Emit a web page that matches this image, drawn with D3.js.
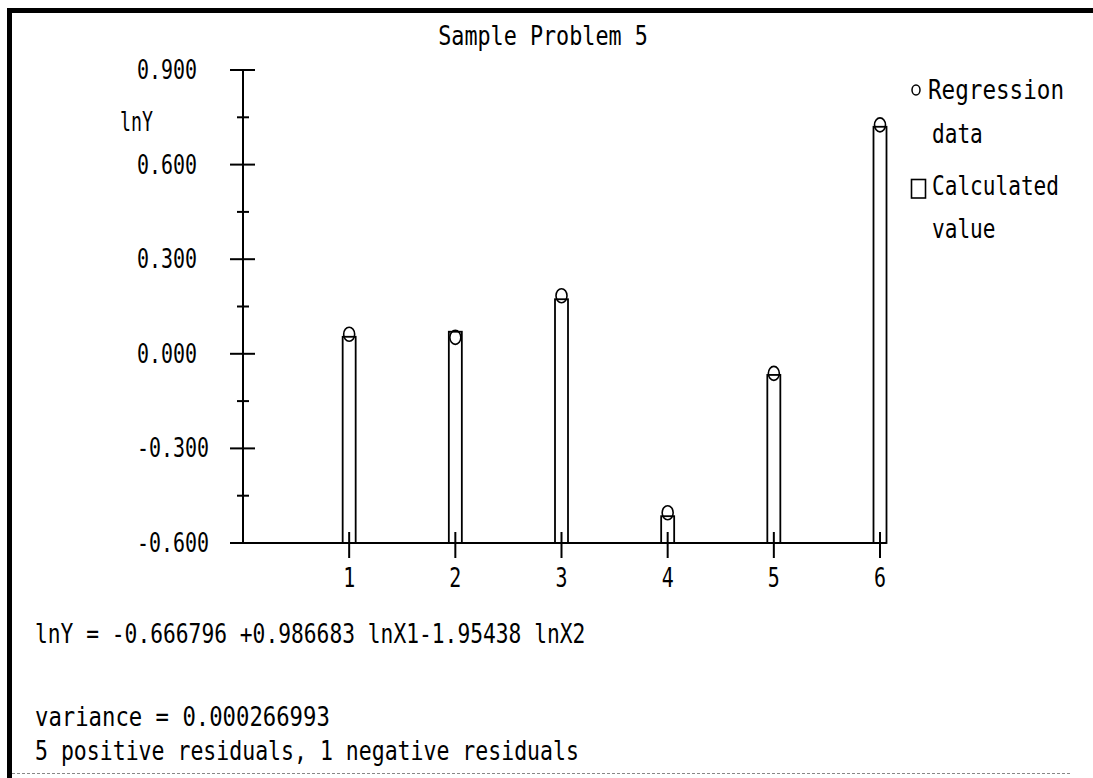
<!DOCTYPE html>
<html>
<head>
<meta charset="utf-8">
<script src="https://cdn.jsdelivr.net/npm/d3@7"></script>
<style>
  html, body { margin: 0; padding: 0; background: #fff; }
  svg { display: block; }
  text { font-family: "DejaVu Sans Mono", monospace; font-size: 26px; fill: #000; }
</style>
</head>
<body>
<svg id="chart" width="1093" height="778"></svg>
<script>
// categories and values
const xCats = [1, 2, 3, 4, 5, 6];
const calcValues = [0.054, 0.070, 0.173, -0.515, -0.067, 0.720];   // bars (calculated value)
const dataValues = [0.062, 0.052, 0.184, -0.504, -0.062, 0.726];   // circles (regression data)
const yMajor = [0.9, 0.6, 0.3, 0, -0.3, -0.6];
const yMinor = [0.75, 0.45, 0.15, -0.15, -0.45];
const yLabels = ["0.900", "0.600", "0.300", "0.000", "-0.300", "-0.600"];

const title = "Sample Problem 5";
const equation = "lnY = -0.666796 +0.986683 lnX1-1.95438 lnX2";
const variance = "variance = 0.000266993";
const residuals = "5 positive residuals, 1 negative residuals";

const svg = d3.select("#chart");

const x = d3.scaleLinear().domain([0, 6]).range([243, 880]);
const y = d3.scaleLinear().domain([-0.6, 0.9]).range([543, 70]);

// squeeze monospace text to the plotter's narrow pitch
function label(px, py, str, adv, anchor) {
    return svg.append("text")
        .attr("x", px)
        .attr("y", py)
        .attr("text-anchor", anchor || "start")
        .attr("textLength", str.length * adv)
        .attr("lengthAdjust", "spacingAndGlyphs")
        .text(str);
}

// frame
svg.append("rect").attr("x", 7).attr("y", 8).attr("width", 1086).attr("height", 5).attr("fill", "#000");
svg.append("rect").attr("x", 7).attr("y", 8).attr("width", 5).attr("height", 770).attr("fill", "#000");
svg.append("line")
    .attr("x1", 12).attr("x2", 1071).attr("y1", 773.5).attr("y2", 773.5)
    .attr("stroke", "#888").attr("stroke-width", 1).attr("stroke-dasharray", "3,2");

// title
label(543, 45, title, 13.1, "middle");

// y axis
const axis = svg.append("g").attr("stroke", "#000").attr("stroke-width", 2);
axis.append("line").attr("x1", x(0)).attr("x2", x(0)).attr("y1", y(0.9)).attr("y2", y(-0.6));
axis.selectAll("line.major").data(yMajor).enter().append("line")
    .attr("class", "major")
    .attr("x1", x(0) - 13).attr("x2", x(0) + 12)
    .attr("y1", d => y(d)).attr("y2", d => y(d));
axis.selectAll("line.minor").data(yMinor).enter().append("line")
    .attr("class", "minor")
    .attr("x1", x(0) - 6).attr("x2", x(0) + 6)
    .attr("y1", d => y(d)).attr("y2", d => y(d));

yMajor.forEach((v, i) => label(137, y(v) + 9, yLabels[i], 12));
label(120, 131, "lnY", 11);

// x axis
axis.append("line").attr("x1", x(0) - 13).attr("x2", x(6.06)).attr("y1", y(-0.6)).attr("y2", y(-0.6));
axis.selectAll("line.xtick").data(xCats).enter().append("line")
    .attr("class", "xtick")
    .attr("x1", d => x(d)).attr("x2", d => x(d))
    .attr("y1", y(-0.6) - 11).attr("y2", y(-0.6) + 15);
xCats.forEach(c => label(x(c), 587, String(c), 12, "middle"));

// bars: calculated value
const barW = 13;
svg.selectAll("rect.bar").data(calcValues).enter().append("rect")
    .attr("class", "bar")
    .attr("x", (d, i) => x(xCats[i]) - barW / 2)
    .attr("y", d => y(d))
    .attr("width", barW)
    .attr("height", d => y(-0.6) - y(d))
    .attr("fill", "none")
    .attr("stroke", "#000")
    .attr("stroke-width", 1.8);

// circles: regression data
svg.selectAll("ellipse.pt").data(dataValues).enter().append("ellipse")
    .attr("class", "pt")
    .attr("cx", (d, i) => x(xCats[i]))
    .attr("cy", d => y(d))
    .attr("rx", 5.5)
    .attr("ry", 7)
    .attr("fill", "none")
    .attr("stroke", "#000")
    .attr("stroke-width", 1.6);

// legend
svg.append("ellipse").attr("cx", 916).attr("cy", 90).attr("rx", 4).attr("ry", 5)
    .attr("fill", "none").attr("stroke", "#000").attr("stroke-width", 1.5);
label(928, 99, "Regression", 13.6);
label(932, 143, "data", 12.7);
svg.append("rect").attr("x", 911.5).attr("y", 179.5).attr("width", 14).attr("height", 18.5)
    .attr("fill", "none").attr("stroke", "#000").attr("stroke-width", 1.6);
label(932, 195, "Calculated", 12.7);
label(932, 238, "value", 12.7);

// notes below the plot
label(35, 643, equation, 12.8);
label(35, 726, variance, 13.4);
label(35, 760, residuals, 12.95);
</script>
</body>
</html>
